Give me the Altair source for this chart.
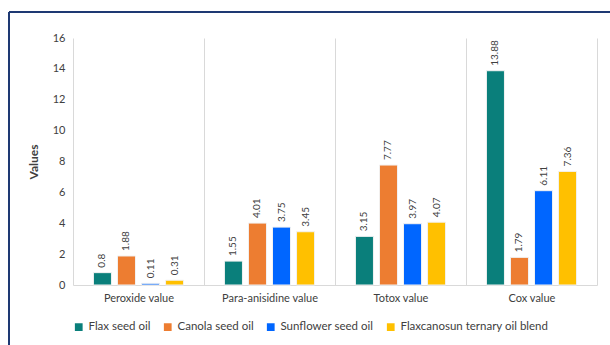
import altair as alt
import pandas as pd

categories = ["Peroxide value", "Para-anisidine value", "Totox value", "Cox value"]
oils = ["Flax seed oil", "Canola seed oil", "Sunflower seed oil", "Flaxcanosun ternary oil blend"]
flax = [0.8, 1.55, 3.15, 13.88]
canola = [1.88, 4.01, 7.77, 1.79]
sunflower = [0.11, 3.75, 3.97, 6.11]
blend = [0.31, 3.45, 4.07, 7.36]
colors = ["#0A7F7B", "#ED7D31", "#0066FF", "#FFC000"]
y_ticks = [0, 2, 4, 6, 8, 10, 12, 14, 16]

rows = []
for oil, vals in zip(oils, [flax, canola, sunflower, blend]):
    for c, v in zip(categories, vals):
        rows.append({"Parameter": c, "Oil": oil, "Value": v, "Label": f"{v:g}"})
df = pd.DataFrame(rows)

FONT = "Lato"

x = alt.X("Parameter:N", sort=categories, title=None,
          scale=alt.Scale(paddingInner=0, paddingOuter=0),
          axis=alt.Axis(tickBand="extent", grid=True, gridColor="#D9D9D9", ticks=False,
                        domainColor="#D9D9D9", labelAngle=0, labelFontSize=11,
                        labelColor="#404040", labelFont=FONT, labelPadding=7))
xo = alt.XOffset("Oil:N", sort=oils,
                 scale=alt.Scale(paddingInner=0.25, paddingOuter=0.85))
y = alt.Y("Value:Q", title="Values",
          scale=alt.Scale(domain=[0, 16], nice=False),
          axis=alt.Axis(values=y_ticks, grid=False, domain=False, ticks=False,
                        labelOverlap=False,
                        labelFontSize=11, labelColor="#404040", labelFont=FONT, labelPadding=8,
                        titleFontSize=12, titleFont=FONT, titleColor="#404040",
                        titleFontWeight="bold", titlePadding=12))

base = alt.Chart(df).encode(x=x, xOffset=xo, y=y)

bars = base.mark_bar(stroke="#F2F2F2", strokeWidth=1).encode(
    color=alt.Color("Oil:N", sort=oils, scale=alt.Scale(domain=oils, range=colors),
                    legend=alt.Legend(title=None, orient="bottom", direction="horizontal",
                                      symbolType="square", symbolSize=60, symbolStrokeWidth=0,
                                      labelFontSize=11.5, labelColor="#404040", labelFont=FONT,
                                      columnPadding=11, offset=18))
)

labels = base.mark_text(angle=270, align="left", baseline="middle", dx=5,
                        fontSize=10, color="#404040", font=FONT).encode(text="Label:N")

border_top = alt.Chart(df).mark_rule(color="#1F3A73", strokeWidth=1.5).encode(
    x=alt.value(-64), x2=alt.value(540), y=alt.value(-26))
border_left = alt.Chart(df).mark_rule(color="#1F3A73", strokeWidth=1.5).encode(
    x=alt.value(-64), y=alt.value(-26), y2=alt.value(310))

chart = alt.layer(bars, labels, border_top, border_left).properties(
    width=524, height=247,
    autosize=alt.AutoSizeParams(type="none"),
    padding={"left": 73, "top": 38, "right": 13, "bottom": 60},
    background="white"
).configure_view(stroke=None)

chart.save("out.html", embed_options={"renderer": "svg", "actions": False})
